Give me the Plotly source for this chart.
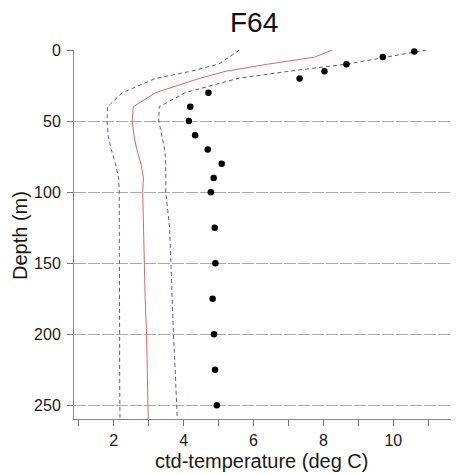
import plotly.graph_objects as go

# Observed CTD points
obs_depth = [1, 5, 10, 15, 20, 30, 40, 50, 60, 70, 80, 90, 100, 125, 150, 175, 200, 225, 250]
obs_temp = [10.6, 9.7, 8.66, 8.03, 7.32, 4.71, 4.19, 4.15, 4.33, 4.69, 5.09, 4.86, 4.78, 4.89, 4.91, 4.83, 4.87, 4.90, 4.95]

# Climatology profile (mean and bounds)
prof_depth = [0, 5, 10, 15, 20, 30, 40, 50, 60, 70, 80, 90, 100, 125, 150, 175, 200, 225, 250, 262]
mean_temp = [8.25, 7.75, 6.4, 5.2, 4.45, 3.2, 2.56, 2.53, 2.58, 2.66, 2.78, 2.85, 2.83, 2.85, 2.87, 2.9, 2.94, 2.96, 2.98, 2.99]
low_temp = [5.6, 5.3, 5.0, 4.2, 3.2, 2.25, 1.82, 1.81, 1.84, 1.93, 2.05, 2.14, 2.16, 2.16, 2.17, 2.17, 2.17, 2.17, 2.17, 2.18]
high_temp = [10.95, 9.8, 8.65, 7.0, 5.55, 4.05, 3.3, 3.29, 3.38, 3.46, 3.49, 3.49, 3.49, 3.6, 3.63, 3.66, 3.71, 3.76, 3.8, 3.82]

x_tickvals = [1, 2, 3, 4, 5, 6, 7, 8, 9, 10, 11]
x_ticktext = ["", "2", "", "4", "", "6", "", "8", "", "10", ""]
y_tickvals = [0, 50, 100, 150, 200, 250]

FONT = "Liberation Sans, Arial, sans-serif"
BLUE = "#5a5aa6"

fig = go.Figure()
fig.add_trace(go.Scatter(x=low_temp, y=prof_depth, mode="lines",
                         line=dict(color=BLUE, width=1, dash="4px,3px"), showlegend=False))
fig.add_trace(go.Scatter(x=high_temp, y=prof_depth, mode="lines",
                         line=dict(color=BLUE, width=1, dash="4px,3px"), showlegend=False))
fig.add_trace(go.Scatter(x=mean_temp, y=prof_depth, mode="lines",
                         line=dict(color="#d46a6a", width=1), showlegend=False))
fig.add_trace(go.Scatter(x=obs_temp, y=obs_depth, mode="markers",
                         marker=dict(color="black", size=6.5), cliponaxis=False, showlegend=False))

# page body has an 8px margin: figure is offset so the plot lands where the reference has it
fig.update_layout(
    width=451, height=466,
    margin=dict(l=66, r=0, t=42, b=55),
    paper_bgcolor="white", plot_bgcolor="white",
    font=dict(family=FONT, color="#1a1a1a"),
    annotations=[
        dict(text="F64", x=0.4675, y=1 + 28 / 369, xref="paper", yref="paper",
             xanchor="center", yanchor="middle", showarrow=False,
             font=dict(size=28, family=FONT, color="#111")),
        dict(text="ctd-temperature (deg C)", x=0.4875, y=-42 / 369, xref="paper", yref="paper",
             xanchor="center", yanchor="middle", showarrow=False,
             font=dict(size=20, family=FONT, color="#1a1a1a")),
        dict(text="Depth (m)", x=-54 / 385, y=0.496, xref="paper", yref="paper",
             xanchor="center", yanchor="middle", showarrow=False, textangle=-90,
             font=dict(size=20, family=FONT, color="#1a1a1a")),
    ],
)
fig.update_xaxes(
    range=[0.864, 11.88], tickmode="array", tickvals=x_tickvals, ticktext=x_ticktext,
    ticks="outside", ticklen=6, tickcolor="#777", tickwidth=1,
    showline=True, linecolor="#888", linewidth=1,
    showgrid=False, zeroline=False,
    tickfont=dict(size=16, family=FONT, color="#1a1a1a"), ticklabelstandoff=1,
)
fig.update_yaxes(
    range=[259.6, 0], tickmode="array", tickvals=y_tickvals,
    ticks="outside", ticklen=6, tickcolor="#777", tickwidth=1,
    showline=True, linecolor="#888", linewidth=1,
    showgrid=True, gridcolor="#aaaaaa", gridwidth=1, griddash="12px,2px",
    zeroline=False,
    tickfont=dict(size=16, family=FONT, color="#1a1a1a"), ticklabelstandoff=3,
)

fig.write_html("out.html")
